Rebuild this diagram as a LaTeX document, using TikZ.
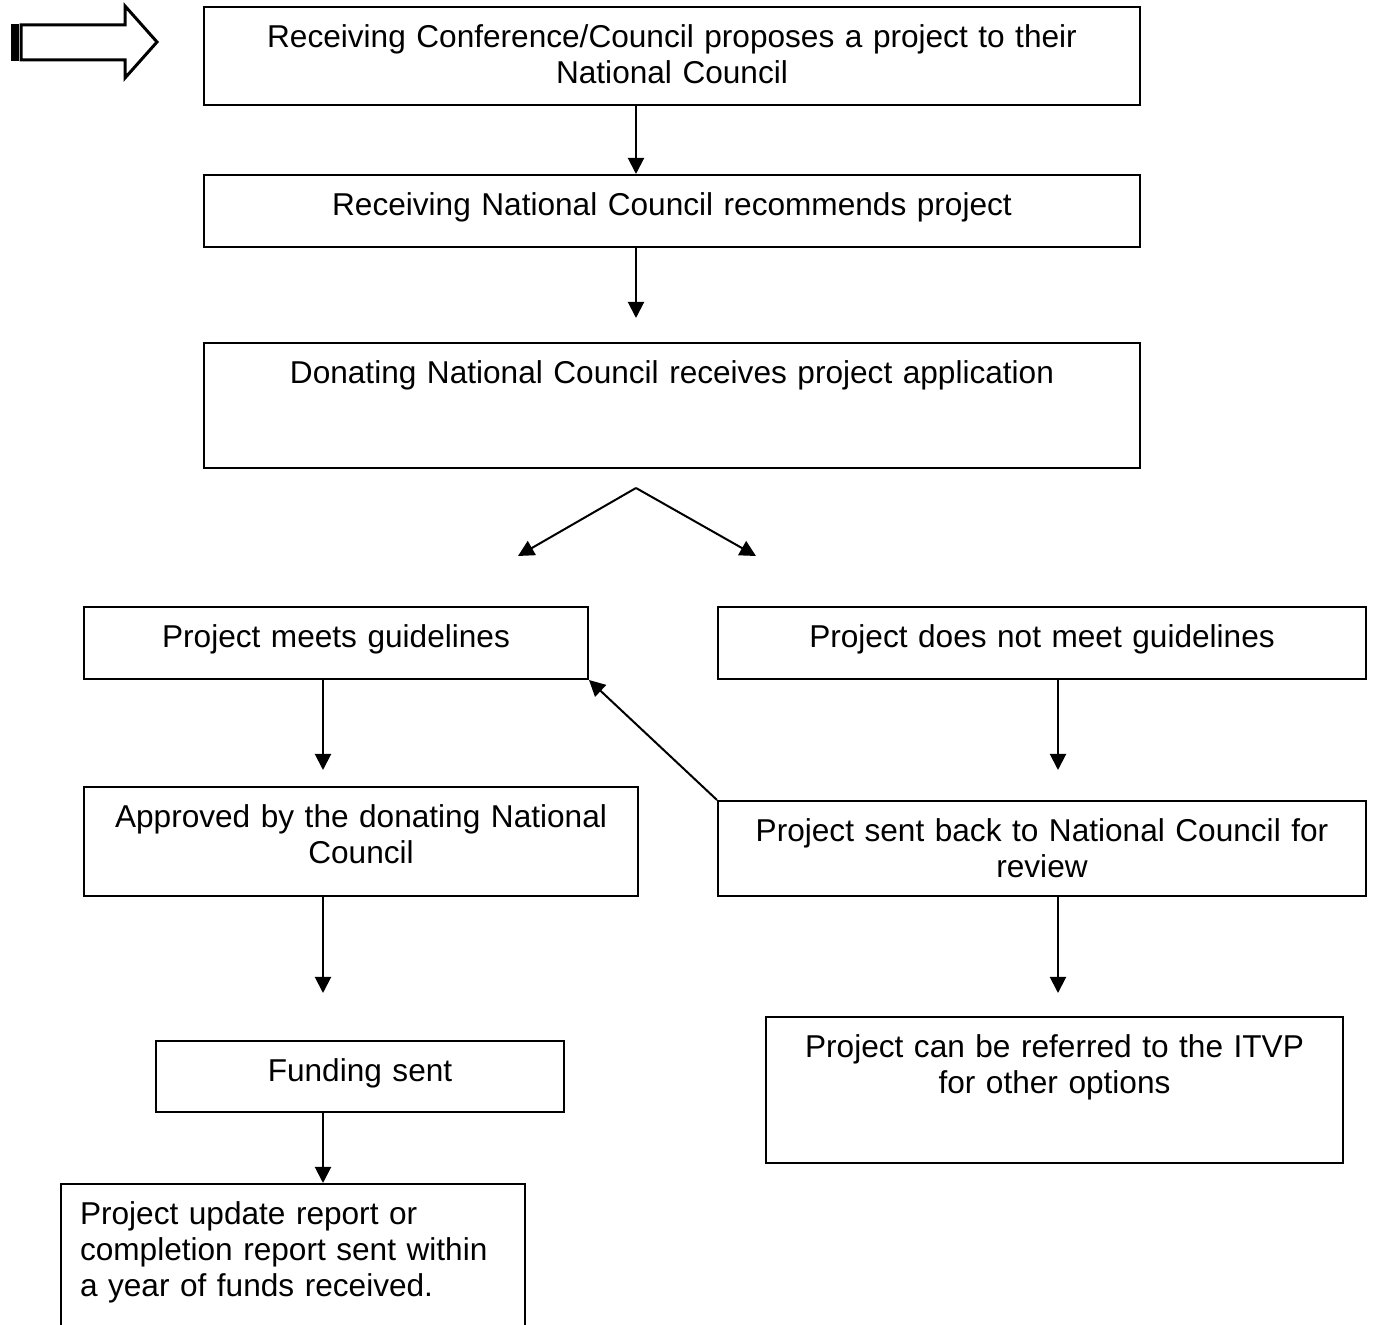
\documentclass[tikz,border=0pt]{standalone}
\usepackage{fontspec}
\setmainfont{Liberation Sans}
\usetikzlibrary{arrows.meta}

\tikzset{
  block/.style={draw, line width=1pt, inner xsep=0pt, inner ysep=0pt, align=center,
    anchor=north, text height=20.5pt, font=\fontsize{15.8}{18}\selectfont},
  link/.style={-{Triangle[length=8pt,width=8pt]}, line width=1pt},
}

\begin{document}
\begin{tikzpicture}[x=0.5pt, y=-0.5pt]
    \useasboundingbox (0,0) rectangle (1378,1325);

    % Flecha de entrada
    \fill (11,24) rectangle (19,61);
    \draw[line width=1.5pt, line join=miter] (21,25) -- (125,25) -- (125,6) -- (157,42)
        -- (125,78) -- (125,60) -- (21,60) -- cycle;

    % Cajas
    \node[block, text width=468pt, text depth=28.5pt] (propose) at (672,6)
        {Receiving Conference/Council proposes a project to their\\National Council};
    \node[block, text width=468pt, text depth=15.5pt] (recommend) at (672,174)
        {Receiving National Council recommends project};
    \node[block, text width=468pt, text depth=42pt] (receive) at (672,342)
        {Donating National Council receives project application};
    \node[block, text width=252pt, text depth=15.5pt] (meets) at (336,606)
        {Project meets guidelines};
    \node[block, text width=324pt, text depth=15.5pt] (notmeet) at (1042,606)
        {Project does not meet guidelines};
    \node[block, text width=277pt, text depth=34pt] (approved) at (361,786)
        {Approved by the donating National\\Council};
    \node[block, text width=324pt, text depth=27pt] (sentback) at (1042,800)
        {Project sent back to National Council for\\review};
    \node[block, text width=204pt, text depth=15pt] (funding) at (360,1040)
        {Funding sent};
    \node[block, text width=288.5pt, text depth=52.5pt] (itvp) at (1054.5,1016)
        {Project can be referred to the ITVP\\for other options};
    \node[block, align=left, inner xsep=9.5pt, text width=213pt, text depth=61pt] (report) at (293,1183)
        {Project update report or\\completion report sent within\\a year of funds received.};

    % Extremos libres
    \coordinate (split) at (636,488);
    \coordinate (leftend) at (518,556);
    \coordinate (rightend) at (756,556);
    \coordinate (endA) at (636,318);
    \coordinate (endB) at (323,770);
    \coordinate (endC) at (1058,770);
    \coordinate (endD) at (323,993);
    \coordinate (endE) at (1058,993);

    % Flechas
    \draw[link] (propose.south -| endA) -- (recommend.north -| endA);
    \draw[link] (recommend.south -| endA) -- (endA);
    \draw[link] (split) -- (leftend);
    \draw[link] (split) -- (rightend);
    \draw[link] (meets.south -| endB) -- (endB);
    \draw[link] (notmeet.south -| endC) -- (endC);
    \draw[link] (sentback.north west) -- (meets.south east);
    \draw[link] (approved.south -| endD) -- (endD);
    \draw[link] (sentback.south -| endE) -- (endE);
    \draw[link] (funding.south -| endB) -- (report.north -| endB);

\end{tikzpicture}
\end{document}
